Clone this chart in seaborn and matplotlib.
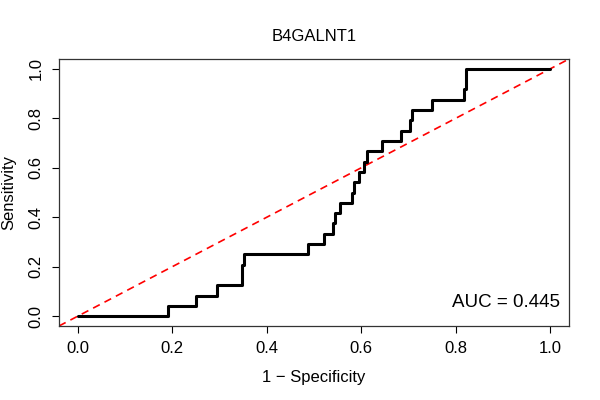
import matplotlib
matplotlib.use("Agg")
import matplotlib.pyplot as plt
import seaborn as sns
import pandas as pd

# ROC curve coordinates (1 - specificity, sensitivity)
fpr = [0.000, 0.191, 0.191, 0.250, 0.250, 0.295, 0.295, 0.347, 0.347, 0.351, 0.351,
       0.488, 0.488, 0.522, 0.522, 0.541, 0.541, 0.545, 0.545, 0.556, 0.556,
       0.581, 0.581, 0.585, 0.585, 0.595, 0.595, 0.606, 0.606, 0.613, 0.613,
       0.643, 0.643, 0.685, 0.685, 0.704, 0.704, 0.708, 0.708, 0.749, 0.749,
       0.818, 0.818, 0.822, 0.822, 1.000]
tpr = [0.000, 0.000, 0.042, 0.042, 0.083, 0.083, 0.125, 0.125, 0.208, 0.208, 0.250,
       0.250, 0.292, 0.292, 0.333, 0.333, 0.375, 0.375, 0.417, 0.417, 0.458,
       0.458, 0.500, 0.500, 0.542, 0.542, 0.583, 0.583, 0.625, 0.625, 0.667,
       0.667, 0.708, 0.708, 0.750, 0.750, 0.792, 0.792, 0.833, 0.833, 0.875,
       0.875, 0.917, 0.917, 1.000, 1.000]
ticks = [0.0, 0.2, 0.4, 0.6, 0.8, 1.0]
tick_labels = ["0.0", "0.2", "0.4", "0.6", "0.8", "1.0"]
title = "B4GALNT1"
auc_text = "AUC = 0.445"

sns.set_style("white")
plt.rcParams['font.family'] = ['Liberation Sans', 'DejaVu Sans']
plt.rcParams['text.color'] = 'black'
plt.rcParams['axes.labelcolor'] = 'black'

fig = plt.figure(figsize=(6, 4), dpi=100)
ax = fig.add_axes([59/600, 1-326/400, 510/600, 267/400])

df = pd.DataFrame({"fpr": fpr, "tpr": tpr})
sns.lineplot(data=df, x="fpr", y="tpr", sort=False, estimator=None,
             color="black", linewidth=2.2, ax=ax)

ax.set_xlim(-0.04, 1.04)
ax.set_ylim(-0.04, 1.04)
ax.plot([-0.04, 1.04], [-0.04, 1.04], color="#FF0000", linestyle=(0, (4.5, 3.2)),
        linewidth=1.2, zorder=1)

ax.set_xticks(ticks)
ax.set_xticklabels(tick_labels)
ax.set_yticks(ticks)
ax.set_yticklabels(tick_labels, rotation=90, va="center")
ax.tick_params(axis="both", which="both", direction="out", length=5, width=0.8,
               color="black", labelsize=12, pad=6, labelcolor="black",
               bottom=True, left=True)
for s in ax.spines.values():
    s.set_color("#333333")
    s.set_linewidth(0.9)

ax.set_xlabel("1 \u2212 Specificity", fontsize=12, labelpad=10)
ax.set_ylabel("Sensitivity", fontsize=12, labelpad=9)
ax.set_title(title, fontsize=12, pad=13, color="black")
ax.text(1.021, 0.054, auc_text, ha="right", va="center", fontsize=13.5, color="black")

fig.savefig("out.png", dpi=100)
